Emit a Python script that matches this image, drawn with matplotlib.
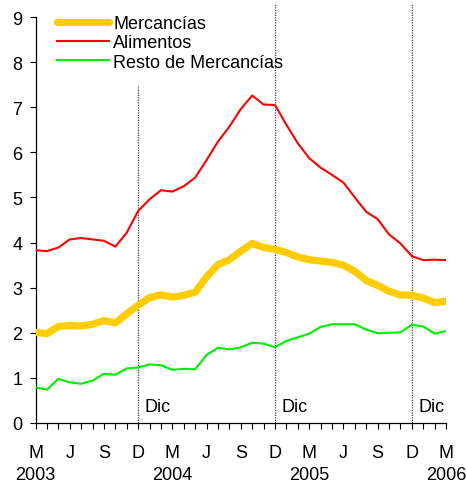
import matplotlib
matplotlib.use("Agg")
import matplotlib.pyplot as plt
import numpy as np

plt.rcParams['font.family'] = ['Liberation Sans', 'DejaVu Sans']

# meses desde marzo 2003 hasta marzo 2006 (37 observaciones)
months = np.arange(37)
tick_letters = ["M", "J", "S", "D"] * 3 + ["M"]
year_labels = ["2003", "2004", "2005", "2006"]
year_pos = [0, 12, 24, 36]
dic_pos = [9, 21, 33]

mercancias = [2.01, 1.98, 2.14, 2.16, 2.15, 2.19, 2.27, 2.22, 2.42, 2.61, 2.78, 2.84,
              2.79, 2.83, 2.90, 3.24, 3.51, 3.62, 3.81, 3.98, 3.89, 3.85, 3.78, 3.68,
              3.62, 3.59, 3.56, 3.50, 3.36, 3.16, 3.05, 2.92, 2.84, 2.83, 2.77, 2.67,
              2.70]
alimentos = [3.83, 3.81, 3.89, 4.07, 4.10, 4.07, 4.04, 3.91, 4.22, 4.70, 4.96, 5.16,
             5.13, 5.25, 5.44, 5.83, 6.24, 6.57, 6.96, 7.26, 7.06, 7.05, 6.61, 6.20,
             5.87, 5.66, 5.50, 5.33, 5.00, 4.68, 4.52, 4.18, 3.98, 3.70, 3.61, 3.62,
             3.61]
resto = [0.79, 0.74, 0.98, 0.90, 0.87, 0.94, 1.09, 1.07, 1.21, 1.23, 1.30, 1.28,
         1.18, 1.20, 1.19, 1.51, 1.67, 1.63, 1.68, 1.78, 1.76, 1.68, 1.82, 1.90,
         1.98, 2.13, 2.19, 2.19, 2.19, 2.07, 1.99, 2.00, 2.01, 2.18, 2.14, 1.98,
         2.04]

fig = plt.figure(figsize=(4.66, 4.85), dpi=100)
ax = fig.add_axes([0.0762, 0.1258, 0.881, 0.837])

# lineas punteadas de diciembre
dic_top = [7.5, 9.3, 9.3]
for xp, yt in zip(dic_pos, dic_top):
    ax.plot([xp, xp], [0, yt], color="#444444", linestyle=(0, (1, 1)), linewidth=0.9,
            clip_on=False, zorder=1)
    ax.text(xp + 0.55, 0.36, "Dic", fontsize=13, va="center", ha="left")

ax.plot(months, mercancias, color="#FFCC00", linewidth=5.2, solid_capstyle="round",
        solid_joinstyle="round", label="Mercancías", zorder=3)
ax.plot(months, alimentos, color="#FF0000", linewidth=1.5, label="Alimentos", zorder=4)
ax.plot(months, resto, color="#00EE00", linewidth=1.5, label="Resto de Mercancías", zorder=4)

ax.set_xlim(0, 36)
ax.set_ylim(0, 9)
ax.set_yticks(range(10))
ax.set_xticks(range(0, 37, 3))
ax.set_xticklabels(tick_letters)
ax.set_xticks(months, minor=True)
ax.tick_params(axis="both", which="both", direction="out", length=4.5, width=0.8,
               labelsize=13, color="black")
ax.tick_params(axis="x", pad=10.5)
ax.tick_params(axis="y", pad=5)

for s in ["top", "right"]:
    ax.spines[s].set_visible(False)
for s in ["left", "bottom"]:
    ax.spines[s].set_linewidth(0.9)

for yl, yp in zip(year_labels, year_pos):
    ax.text(yp, -0.127, yl, fontsize=13, ha="center", va="center",
            transform=ax.get_xaxis_transform(), clip_on=False)

leg = fig.legend(loc="upper left", bbox_to_anchor=(0.102, 0.985), frameon=False,
                 fontsize=13, handlelength=2.9, handletextpad=0.25, labelspacing=0.12,
                 borderpad=0)

fig.savefig("out.png", dpi=100)
